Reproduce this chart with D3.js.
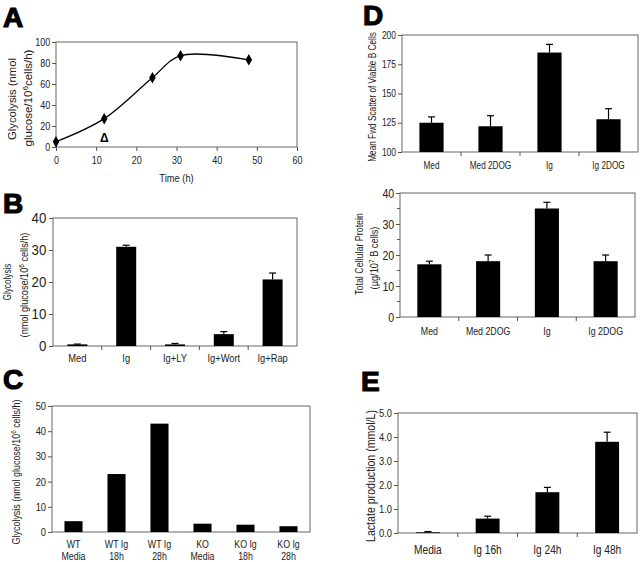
<!DOCTYPE html>
<html><head><meta charset="utf-8">
<script src="https://cdn.jsdelivr.net/npm/d3@7/dist/d3.min.js"></script>
<style>body{margin:0;background:#fff}svg{display:block;font-family:"Liberation Sans",Arial,sans-serif}</style>
</head><body>
<svg id="c" width="640" height="562"></svg>
<script>
// Panel A: time course
const aTime = [0, 12, 24, 31, 48];
const aGly = [5, 27, 66, 87, 83];
const aXTicks = [0, 10, 20, 30, 40, 50, 60];
const aYTicks = [0, 20, 40, 60, 80, 100];
// Panel B
const bCats = ["Med", "Ig", "Ig+LY", "Ig+Wort", "Ig+Rap"];
const bVals = [0.5, 31, 0.5, 3.7, 20.8];
const bErrs = [0.1, 0.5, 0.3, 0.8, 2.0];
// Panel C
const cCats = [["WT","Media"],["WT Ig","18h"],["WT Ig","28h"],["KO","Media"],["KO Ig","18h"],["KO Ig","28h"]];
const cVals = [4.3, 23, 43, 3.3, 2.9, 2.3];
// Panel D top
const dCats = ["Med", "Med 2DOG", "Ig", "Ig  2DOG"];
const dVals = [125, 122, 185, 128];
const dErrs = [5, 9, 7, 9];
// Panel D bottom
const d2Cats = ["Med", "Med 2DOG", "Ig", "Ig 2DOG"];
const d2Vals = [17, 18, 35, 18];
const d2Errs = [1, 2, 2, 2];
// Panel E
const eCats = ["Media", "Ig 16h", "Ig 24h", "Ig 48h"];
const eVals = [0.03, 0.6, 1.7, 3.8];
const eErrs = [0.03, 0.1, 0.2, 0.4];

const svg = d3.select("#c");
const TXT = "#222";
const FF = "Liberation Sans, Arial, sans-serif";

function panelLetter(t, x, y){
  svg.append("text").attr("x", x).attr("y", y).attr("font-size", 28).attr("font-weight", "bold")
    .attr("font-family", FF).attr("stroke", "#000").attr("stroke-width", 1.2).attr("fill", "#000").text(t);
}
function frame(x0, y0, x1, y1){
  svg.append("rect").attr("x", x0).attr("y", y0).attr("width", x1 - x0).attr("height", y1 - y0)
    .attr("fill", "none").attr("stroke", "#666").attr("stroke-width", 1);
}
// rotated titles, each line stretched/compressed to a target length
function vtitle(lines, xs, cys, lens, fs){
  lines.forEach((parts, i) => {
    const t = svg.append("text").attr("text-anchor", "middle").attr("dy", "0.35em")
      .attr("font-size", fs).attr("fill", TXT);
    parts.forEach(p => {
      const s = t.append("tspan").text(p[0]);
      if (p[1]) s.attr("font-size", fs * 0.7).attr("baseline-shift", "super");
    });
    const w = t.node().getBBox().width;
    const k = lens[i] / w;
    t.attr("transform", `translate(${xs[i]},${cys[i]}) rotate(-90) scale(${k},1)`);
  });
}
function squeezeAxisText(sel, fs, sx){
  sel.selectAll("text").attr("font-size", fs).attr("fill", TXT).attr("font-family", FF)
    .attr("transform", `scale(${sx},1)`);
}

function barPanel(o){
  const x = d3.scaleBand().domain(o.cats.map((c, i) => i)).range([o.x0, o.x1]);
  const y = d3.scaleLinear().domain(o.domain).range([o.y1, o.y0]);
  frame(o.x0, o.y0, o.x1, o.y1);
  const bw = x.bandwidth() * o.ratio;
  const g = svg.append("g");
  o.vals.forEach((v, i) => {
    const cx = x(i) + x.bandwidth() / 2;
    g.append("rect").attr("x", cx - bw / 2).attr("y", y(v)).attr("width", bw)
      .attr("height", y(o.domain[0]) - y(v)).attr("fill", "#000");
    if (o.errs) {
      const top = y(v + o.errs[i]);
      g.append("line").attr("x1", cx).attr("x2", cx).attr("y1", y(v)).attr("y2", top).attr("stroke", "#000").attr("stroke-width", 1.2);
      g.append("line").attr("x1", cx - 3.5).attr("x2", cx + 3.5).attr("y1", top).attr("y2", top).attr("stroke", "#000").attr("stroke-width", 1.2);
    }
  });
  const ya = svg.append("g").attr("transform", `translate(${o.x0},0)`)
    .call(d3.axisLeft(y).tickValues(o.ticks).tickFormat(o.fmt || (d => d)).tickSize(4).tickPadding(3));
  ya.select(".domain").remove();
  ya.selectAll("line").attr("stroke", "#555");
  squeezeAxisText(ya, o.tickFont, o.tickSx);
  if (o.minor) {
    o.minor.forEach(m => svg.append("line").attr("x1", o.x0 - 3).attr("x2", o.x0).attr("y1", y(m)).attr("y2", y(m)).attr("stroke", "#555"));
  }
  if (o.xTicks) {
    o.cats.forEach((c, i) => { if (i > 0) {
      svg.append("line").attr("x1", x(i)).attr("x2", x(i)).attr("y1", o.y1).attr("y2", o.y1 + 4).attr("stroke", "#555");
    }});
  }
  o.cats.forEach((c, i) => {
    const cx = x(i) + x.bandwidth() / 2;
    const lines = Array.isArray(c) ? c : [c];
    const t = svg.append("text").attr("transform", `translate(${cx},${o.catY}) scale(${o.catSx},1)`)
      .attr("text-anchor", "middle").attr("font-size", o.catFont).attr("fill", TXT);
    lines.forEach((l, k) => t.append("tspan").attr("x", 0).attr("dy", k === 0 ? 0 : o.catFont * 1.12).text(l));
  });
}

// ---------- Panel A ----------
(function(){
  const x0 = 56, x1 = 297, y0 = 42, y1 = 147;
  const x = d3.scaleLinear().domain([0, 60]).range([x0, x1]);
  const y = d3.scaleLinear().domain([0, 100]).range([y1, y0]);
  frame(x0, y0, x1, y1);
  const xa = svg.append("g").attr("transform", `translate(0,${y1})`)
    .call(d3.axisBottom(x).tickValues(aXTicks).tickSize(4).tickPadding(5));
  xa.select(".domain").remove();
  xa.selectAll("line").attr("stroke", "#555");
  squeezeAxisText(xa, 11, 0.82);
  const ya = svg.append("g").attr("transform", `translate(${x0},0)`)
    .call(d3.axisLeft(y).tickValues(aYTicks).tickSize(4).tickPadding(3));
  ya.select(".domain").remove();
  ya.selectAll("line").attr("stroke", "#555");
  squeezeAxisText(ya, 11, 0.82);
  const pts = aTime.map((t, i) => [t, aGly[i]]);
  svg.append("path").attr("d", d3.line().x(d => x(d[0])).y(d => y(d[1])).curve(d3.curveCatmullRom.alpha(0.5))(pts))
    .attr("fill", "none").attr("stroke", "#000").attr("stroke-width", 1.3);
  svg.selectAll(".dia").data(pts).join("path")
    .attr("transform", d => `translate(${x(d[0])},${y(d[1])})`)
    .attr("d", d3.symbol(d3.symbolDiamond, 38)).attr("fill", "#000");
  svg.append("text").attr("x", x(12)).attr("y", 142).attr("text-anchor", "middle").attr("font-size", 12)
    .attr("font-weight", "bold").attr("fill", "#000").text("Δ");
  svg.append("text").attr("transform", `translate(${(x0 + x1) / 2},182) scale(0.85,1)`).attr("text-anchor", "middle")
    .attr("font-size", 11).attr("fill", TXT).text("Time (h)");
  vtitle([[["Glycolysis (nmol"]], [["glucose/10"], ["6", true], ["cells/h)"]]], [12, 28], [99, 98], [82, 97], 11);
})();
panelLetter("A", 3, 27);

// ---------- Panel B ----------
barPanel({x0: 53, x1: 297, y0: 218, y1: 346, cats: bCats, vals: bVals, errs: bErrs, domain: [0, 40],
  ticks: [0, 10, 20, 30, 40], tickFont: 14, tickSx: 0.95, catFont: 11, catSx: 0.85, catY: 362, ratio: 0.41, xTicks: true});
vtitle([[["Glycolysis"]], [["(nmol glucose/10"], ["6", true], [" cells/h)"]]], [7, 24], [282, 285], [37, 105], 10);
panelLetter("B", 3, 213);

// ---------- Panel C ----------
barPanel({x0: 52, x1: 310, y0: 406, y1: 532, cats: cCats, vals: cVals, errs: null, domain: [0, 50],
  ticks: [0, 10, 20, 30, 40, 50], tickFont: 11, tickSx: 0.85, catFont: 11, catSx: 0.8, catY: 548, ratio: 0.42, xTicks: false});
vtitle([[["Glycolysis (nmol glucose/10"], ["6", true], [" cells/h)"]]], [16], [472], [145], 10);
panelLetter("C", 3, 389);

// ---------- Panel D top ----------
barPanel({x0: 402, x1: 638, y0: 35, y1: 152, cats: dCats, vals: dVals, errs: dErrs, domain: [100, 200],
  ticks: [100, 125, 150, 175, 200], tickFont: 10, tickSx: 0.85, catFont: 10, catSx: 0.82, catY: 169, ratio: 0.41, xTicks: true});
vtitle([[["Mean Fwd Scatter of Viable B Cells"]]], [372], [97], [130], 10);
panelLetter("D", 363, 25);

// ---------- Panel D bottom ----------
barPanel({x0: 400, x1: 635, y0: 193, y1: 317, cats: d2Cats, vals: d2Vals, errs: d2Errs, domain: [0, 40],
  ticks: [0, 10, 20, 30, 40], tickFont: 13, tickSx: 0.82, catFont: 11, catSx: 0.8, catY: 335, ratio: 0.41, xTicks: true,
  minor: [5, 15, 25, 35]});
vtitle([[["Total Cellular Protein"]], [["(µg/10"], ["7", true], [" B cells)"]]], [359, 374], [254, 258], [82, 63], 10);

// ---------- Panel E ----------
barPanel({x0: 398, x1: 637, y0: 413, y1: 533, cats: eCats, vals: eVals, errs: eErrs, domain: [0, 5],
  ticks: [0, 1, 2, 3, 4, 5], fmt: d3.format(".1f"), tickFont: 11, tickSx: 0.85, catFont: 12, catSx: 0.85, catY: 554, ratio: 0.4, xTicks: true});
vtitle([[["Lactate production (mmol/L)"]]], [370], [476], [132], 13);
panelLetter("E", 361, 391);
</script>
</body></html>
